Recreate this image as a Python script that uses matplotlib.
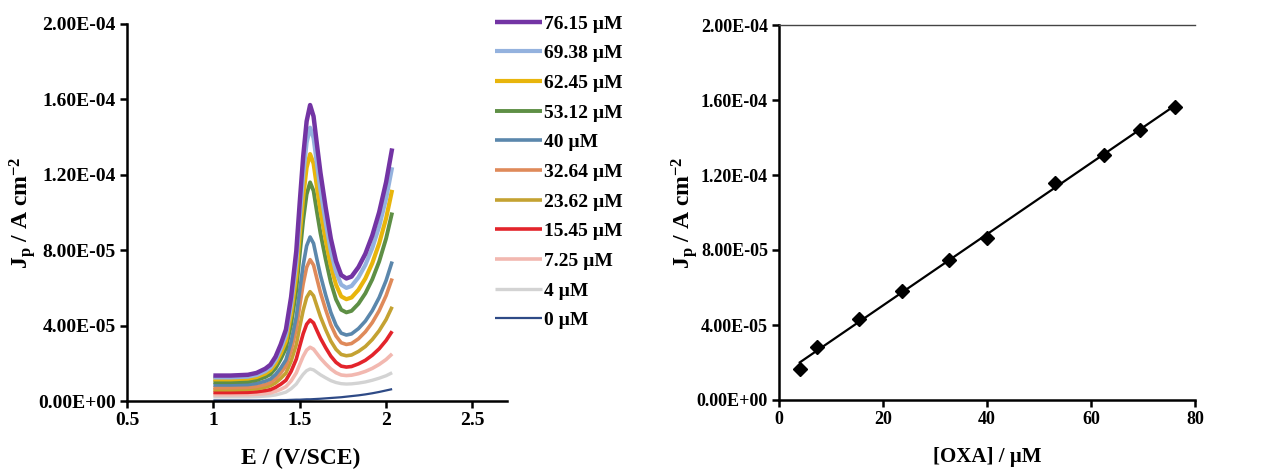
import matplotlib
matplotlib.use("Agg")
import matplotlib.pyplot as plt
import numpy as np

plt.rcParams['font.family'] = ['Liberation Serif', 'DejaVu Serif']
plt.rcParams['font.weight'] = 'bold'
plt.rcParams['mathtext.fontset'] = 'custom'
plt.rcParams['mathtext.rm'] = 'Liberation Serif:bold'
plt.rcParams['mathtext.bf'] = 'Liberation Serif:bold'
plt.rcParams['mathtext.it'] = 'Liberation Serif:bold'

# ---------------- Data ----------------
# Potential grid (V vs SCE)
E = [1.00, 1.10, 1.20, 1.25, 1.30, 1.33, 1.36, 1.39, 1.42, 1.45,
     1.48, 1.50, 1.52, 1.54, 1.56, 1.58, 1.60, 1.62, 1.65, 1.68,
     1.71, 1.74, 1.77, 1.80, 1.84, 1.88, 1.92, 1.96, 2.00, 2.035]

# Current densities (units of 1e-6 A cm^-2) per concentration
J_0 = [0.3, 0.3, 0.3, 0.3, 0.4, 0.4, 0.4, 0.5, 0.5, 0.6,
       0.7, 0.7, 0.8, 0.9, 0.9, 1.0, 1.1, 1.2, 1.4, 1.6,
       1.8, 2.0, 2.3, 2.6, 3.0, 3.5, 4.1, 4.8, 5.6, 6.3]
J_4 = [2.2, 2.2, 2.2, 2.3, 2.6, 2.8, 3.2, 3.9, 4.7, 6.5,
       9.0, 11.7, 14.2, 16.1, 17.0, 16.5, 15.2, 13.9, 12.3, 10.8,
       9.8, 9.2, 9.0, 9.1, 9.5, 10.1, 11.0, 12.1, 13.4, 15.0]
J_7_25 = [3.3, 3.3, 3.4, 3.6, 3.9, 4.3, 5.1, 6.2, 7.6, 10.6,
          14.9, 19.4, 23.7, 27.0, 28.5, 27.5, 25.1, 22.7, 19.7, 17.0,
          15.0, 13.8, 13.5, 13.7, 14.5, 15.7, 17.3, 19.4, 22.0, 25.0]
J_15_45 = [4.5, 4.5, 4.6, 4.9, 5.5, 6.0, 7.2, 8.9, 11.0, 15.7,
           22.2, 29.1, 35.7, 40.7, 43.0, 41.4, 37.3, 33.3, 28.3, 23.8,
           20.5, 18.5, 18.0, 18.3, 19.7, 21.6, 24.3, 27.7, 32.1, 37.0]
J_23_62 = [6.0, 6.0, 6.2, 6.5, 7.3, 8.1, 9.6, 12.0, 14.8, 21.1,
           29.9, 39.3, 48.1, 54.9, 58.0, 55.8, 50.2, 44.7, 37.9, 31.8,
           27.4, 24.7, 24.0, 24.4, 26.3, 28.9, 32.6, 37.3, 43.2, 50.0]
J_32_64 = [7.0, 7.0, 7.2, 7.7, 8.7, 9.7, 11.8, 14.8, 18.6, 26.7,
           38.3, 50.5, 62.1, 70.9, 75.0, 72.1, 64.7, 57.5, 48.5, 40.4,
           34.5, 30.9, 30.0, 30.5, 33.0, 36.7, 41.6, 47.9, 55.9, 65.0]
J_40 = [8.5, 8.5, 8.7, 9.3, 10.5, 11.6, 14.0, 17.5, 21.8, 31.3,
        44.6, 58.7, 72.1, 82.3, 87.0, 83.6, 75.0, 66.7, 56.3, 47.0,
        40.2, 36.0, 35.0, 35.6, 38.4, 42.4, 47.9, 54.9, 63.9, 74.0]
J_53_12 = [10.0, 10.0, 10.3, 11.1, 12.7, 14.2, 17.4, 22.2, 28.0, 40.7,
           58.8, 77.8, 95.9, 109.6, 116.0, 111.5, 100.1, 89.1, 75.3, 62.9,
           53.9, 48.4, 47.0, 47.8, 51.6, 57.1, 64.5, 74.0, 86.2, 100.0]
J_62_45 = [11.5, 11.5, 11.9, 12.7, 14.5, 16.3, 19.9, 25.2, 31.8, 46.2,
           66.5, 88.0, 108.3, 123.8, 131.0, 126.0, 113.3, 101.0, 85.6, 71.7,
           61.7, 55.5, 54.0, 54.9, 59.0, 65.0, 73.1, 83.6, 96.9, 112.0]
J_69_38 = [12.5, 12.5, 12.9, 13.8, 15.8, 17.8, 21.8, 27.7, 35.0, 50.9,
           73.5, 97.3, 119.8, 137.1, 145.0, 139.5, 125.5, 111.9, 94.9, 79.6,
           68.5, 61.7, 60.0, 61.0, 65.6, 72.2, 81.1, 92.6, 107.4, 124.0]
J_76_15 = [13.5, 13.5, 13.9, 14.9, 17.1, 19.2, 23.5, 30.0, 37.9, 55.1,
           79.5, 105.3, 129.7, 148.4, 157.0, 151.0, 135.8, 121.1, 102.7, 86.2,
           74.2, 66.8, 65.0, 66.0, 71.0, 78.1, 87.8, 100.2, 116.1, 134.0]

curve_labels = ['0 µM', '4 µM', '7.25 µM', '15.45 µM', '23.62 µM', '32.64 µM',
                '40 µM', '53.12 µM', '62.45 µM', '69.38 µM', '76.15 µM']
curves = [J_0, J_4, J_7_25, J_15_45, J_23_62, J_32_64, J_40, J_53_12,
          J_62_45, J_69_38, J_76_15]
curve_colors = ['#2E4A86', '#D3D3D3', '#F2B8B0', '#E3242B', '#C4A232', '#DF8A5A',
                '#5B87AC', '#5E8F45', '#E8B50C', '#94B2DE', '#7334A4']
curve_lw = [1.6, 2.4, 2.6, 2.6, 2.6, 2.6, 2.6, 2.8, 3.0, 3.0, 3.2]

# Calibration data
conc = [4, 7.25, 15.45, 23.62, 32.64, 40, 53.12, 62.45, 69.38, 76.15]
Jp = [1.67e-5, 2.83e-5, 4.31e-5, 5.79e-5, 7.47e-5, 8.65e-5, 1.157e-4,
      1.305e-4, 1.442e-4, 1.563e-4]

yticks = [0, 4e-5, 8e-5, 1.2e-4, 1.6e-4, 2e-4]
ytick_labels = ['0.00E+00', '4.00E-05', '8.00E-05', '1.20E-04', '1.60E-04', '2.00E-04']
xticks_left = [0.5, 1, 1.5, 2, 2.5]
xtick_labels_left = ['0.5', '1', '1.5', '2', '2.5']
xticks_right = [0, 20, 40, 60, 80]
xtick_labels_right = ['0', '20', '40', '60', '80']

# ---------------- Figure ----------------
fig = plt.figure(figsize=(12.63, 4.69), dpi=100)
W, H = 1263, 469

def axrect(x0, x1, ytop, ybot):
    return [x0 / W, 1 - ybot / H, (x1 - x0) / W, (ybot - ytop) / H]

ax1 = fig.add_axes(axrect(127, 507, 24, 401))
ax2 = fig.add_axes(axrect(779, 1195, 25, 400))

tick_fs = 14
lab_fs = 17

E_arr = np.array(E)
handles = []
for lab, J, c, lw in zip(curve_labels, curves, curve_colors, curve_lw):
    h, = ax1.plot(E_arr, np.array(J) * 1e-6, color=c, lw=lw, label=lab,
                  solid_capstyle='butt', solid_joinstyle='round')
    handles.append(h)

ax1.set_xlim(0.5, 2.7)
ax1.set_ylim(0, 2e-4)
ax1.set_xticks(xticks_left)
ax1.set_xticklabels(xtick_labels_left)
ax1.set_yticks(yticks)
ax1.set_yticklabels(ytick_labels)
ax1.spines['top'].set_visible(False)
ax1.spines['right'].set_visible(False)
for s in ['left', 'bottom']:
    ax1.spines[s].set_linewidth(1.8)
ax1.tick_params(direction='out', length=5, width=1.8, labelsize=tick_fs, pad=3)
ax1.set_xlabel('E / (V/SCE)', fontsize=lab_fs, fontweight='bold')
ax1.xaxis.set_label_coords((301 - 127) / 380, -0.125)
ax1.set_ylabel(r'J$_\mathregular{p}$ / A cm$^\mathregular{-2}$', fontsize=lab_fs,
               fontweight='bold')
ax1.yaxis.set_label_coords(-0.235, 0.5)

leg = fig.legend(handles[::-1], curve_labels[::-1], loc='upper left',
                 bbox_to_anchor=(495 / W, 1 - 15 / H), frameon=False,
                 fontsize=tick_fs, handlelength=2.4, handletextpad=0.1,
                 labelspacing=0.62, borderpad=0, borderaxespad=0)

# Right panel
ax2.plot(conc, Jp, linestyle='none', marker='D', markersize=7,
         color='black', zorder=3)
coef = np.polyfit(conc, Jp, 1)
xfit = np.array([conc[0], conc[-1]])
ax2.plot(xfit, np.polyval(coef, xfit), color='black', lw=1.6)
ax2.set_xlim(0, 80)
ax2.set_ylim(0, 2e-4)
ax2.set_xticks(xticks_right)
ax2.set_xticklabels(xtick_labels_right)
ax2.set_yticks(yticks)
ax2.set_yticklabels(ytick_labels)
ax2.spines['right'].set_visible(False)
ax2.spines['top'].set_linewidth(1.0)
ax2.spines['top'].set_color('#444444')
for s in ['left', 'bottom']:
    ax2.spines[s].set_linewidth(1.8)
ax2.tick_params(direction='out', length=5, width=1.8, labelsize=13, pad=3)
ax2.set_xlabel('[OXA] / µM', fontsize=15, fontweight='bold')
ax2.xaxis.set_label_coords(0.5, -0.125)
ax2.set_ylabel(r'J$_\mathregular{p}$ / A cm$^\mathregular{-2}$', fontsize=lab_fs,
               fontweight='bold')
ax2.yaxis.set_label_coords(-0.19, 0.5)

fig.savefig('out.png', dpi=100)
